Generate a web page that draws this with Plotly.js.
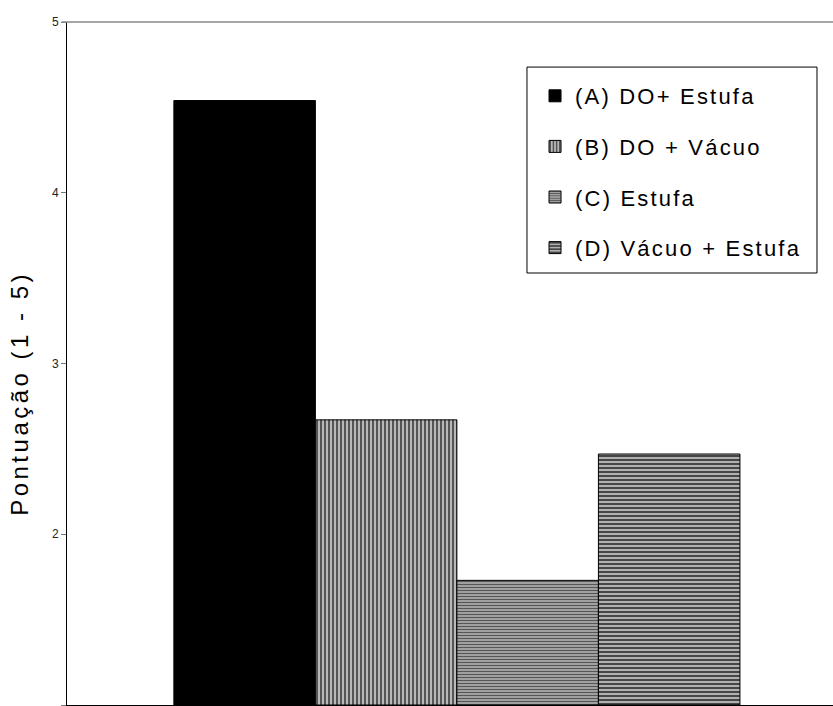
<!DOCTYPE html>
<html>
<head>
<meta charset="utf-8">
<script src="https://cdn.plot.ly/plotly-3.0.1.min.js"></script>
<style>html,body{margin:0;padding:0;background:#fff;}#chart{width:833px;height:706px;}</style>
</head>
<body>
<div id="chart"></div>
<script>
const category = ["Pontuação"];
const seriesNames = ["(A) DO+ Estufa", "(B) DO + Vácuo", "(C) Estufa", "(D) Vácuo + Estufa"];
const valuesA = [4.54];
const valuesB = [2.67];
const valuesC = [1.73];
const valuesD = [2.47];
const yTicks = [1, 2, 3, 4, 5];
const yTitle = "Pontuação (1 - 5)";

const styles = [
  {color: "#000000", pattern: {shape: ""}},
  {color: "#9a9a9a", pattern: {shape: "|", size: 4, solidity: 0.45, fgcolor: "#4a4a4a", bgcolor: "#b8b8b8", fillmode: "replace"}},
  {color: "#8a8a8a", pattern: {shape: "-", size: 3, solidity: 0.4, fgcolor: "#555555", bgcolor: "#a8a8a8", fillmode: "replace"}},
  {color: "#8a8a8a", pattern: {shape: "-", size: 4, solidity: 0.45, fgcolor: "#3a3a3a", bgcolor: "#b0b0b0", fillmode: "replace"}}
];
const allValues = [valuesA, valuesB, valuesC, valuesD];
const spaced = (t, ls) => '<span style="letter-spacing:' + ls + 'px">' + t + '</span>';

const traces = allValues.map((v, i) => ({
  type: "bar",
  name: spaced(seriesNames[i], 2.2),
  x: category,
  y: v.map(val => val - 1),
  base: 1,
  legendgroup: "g" + i,
  marker: {
    color: styles[i].color,
    pattern: styles[i].pattern,
    line: {color: "#000000", width: 1}
  },
  hoverinfo: "skip"
}));

const layout = {
  width: 833,
  height: 706,
  margin: {l: 67, r: 0, t: 22, b: 1},
  paper_bgcolor: "#ffffff",
  plot_bgcolor: "#ffffff",
  font: {family: "Liberation Sans, Arial, sans-serif", color: "#000"},
  barmode: "group",
  bargap: 0.261,
  bargroupgap: 0,
  showlegend: true,
  legend: {
    x: 0.611, y: 0.9224, xanchor: "left", yanchor: "top",
    borderwidth: 0, bgcolor: "rgba(0,0,0,0)",
    font: {size: 22, family: "Liberation Sans, Arial, sans-serif"},
    traceorder: "grouped", tracegroupgap: 19,
    itemwidth: 30
  },
  xaxis: {
    type: "category",
    range: [-0.509, 0.491],
    showticklabels: false,
    ticks: "",
    showgrid: false,
    zeroline: false,
    showline: true, linecolor: "#000", linewidth: 1
  },
  yaxis: {
    range: [1, 5],
    tickvals: yTicks,
    ticktext: yTicks.map(String),
    ticks: "outside", ticklen: 5, tickcolor: "#777", tickwidth: 1,
    tickfont: {size: 12, color: "#222"},
    showgrid: false, zeroline: false,
    showline: true, linecolor: "#000", linewidth: 1
  },
  annotations: [{
    text: spaced(yTitle, 3.5),
    xref: "paper", yref: "paper",
    x: -0.0614, y: 0.457, xanchor: "center", yanchor: "middle",
    textangle: -90, showarrow: false,
    font: {size: 24, color: "#000"}
  }],
  shapes: [
    {
      type: "line", xref: "paper", yref: "paper",
      x0: -0.007, x1: 1, y0: 1, y1: 1,
      line: {color: "#888", width: 1.5}
    },
    {
      type: "rect", xref: "paper", yref: "paper", layer: "above",
      x0: 0.6005, x1: 0.9791, y0: 0.6325, y1: 0.934,
      fillcolor: "#ffffff", line: {color: "#000", width: 1}
    }
  ]
};

Plotly.newPlot("chart", traces, layout, {displayModeBar: false, staticPlot: true});
</script>
</body>
</html>
